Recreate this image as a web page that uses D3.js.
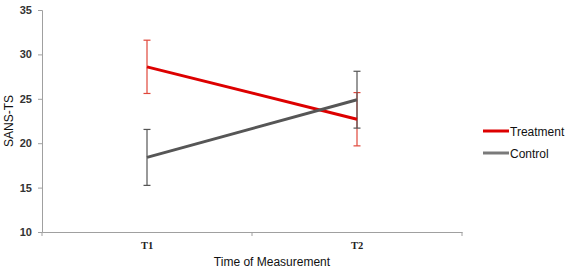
<!DOCTYPE html>
<html>
<head>
<meta charset="utf-8">
<script src="https://cdn.jsdelivr.net/npm/d3@7"></script>
<style>
  body { margin: 0; background: #fff; }
  text { font-family: "Liberation Sans", Arial, sans-serif; }
</style>
</head>
<body>
<svg id="chart" width="567" height="270"></svg>
<script>
// data
const times = ["T1", "T2"];
const treatmentMean = [28.6, 22.7];
const treatmentErr = [3.0, 3.0];
const controlMean = [18.4, 24.9];
const controlErr = [3.15, 3.2];
const yTicks = [10, 15, 20, 25, 30, 35];

const series = [
  {name: "Treatment", mean: treatmentMean, err: treatmentErr, color: "#dd0000", errColor: "#e0463a", legendColor: "#dd0000"},
  {name: "Control", mean: controlMean, err: controlErr, color: "#565656", errColor: "#555555", legendColor: "#7a7a7a"}
];

const svg = d3.select("#chart");
const plotL = 42, plotR = 462, plotT = 10, plotB = 232;

const x = d3.scaleBand().domain(times).range([plotL, plotR]);
const y = d3.scaleLinear().domain([10, 35]).range([plotB, plotT]);

// y axis
const yAxis = svg.append("g").attr("transform", "translate(" + plotL + ",0)")
  .call(d3.axisLeft(y).tickValues(yTicks).tickSize(4).tickPadding(6));
yAxis.select(".domain").attr("stroke", "#a0a0a0");
yAxis.selectAll(".tick line").attr("stroke", "#a0a0a0");
yAxis.selectAll(".tick text")
  .style("font-family", "'Liberation Sans', sans-serif")
  .style("font-weight", "bold")
  .attr("font-size", 11).attr("fill", "#333");

// x axis
const xAxis = svg.append("g").attr("transform", "translate(0," + plotB + ")")
  .call(d3.axisBottom(x).tickSize(0).tickPadding(10));
xAxis.select(".domain").attr("stroke", "#a0a0a0");
xAxis.selectAll(".tick text")
  .style("font-family", "'Liberation Serif', serif")
  .style("font-weight", "bold")
  .attr("font-size", 10.5).attr("fill", "#222");
// boundary ticks between categories
const bounds = [plotL, plotL + x.bandwidth(), plotR];
xAxis.selectAll(".bound").data(bounds).join("line")
  .attr("x1", d => d).attr("x2", d => d)
  .attr("y1", 0).attr("y2", 4)
  .attr("stroke", "#a0a0a0");

const cx = d => x(d) + x.bandwidth() / 2;

// error bars
const line = d3.line().x(d => cx(d.t)).y(d => y(d.v));
series.forEach(s => {
  const pts = times.map((t, i) => ({t: t, v: s.mean[i], e: s.err[i]}));
  const g = svg.append("g");
  g.selectAll(".err").data(pts).join("line")
    .attr("x1", d => cx(d.t)).attr("x2", d => cx(d.t))
    .attr("y1", d => y(d.v - d.e)).attr("y2", d => y(d.v + d.e))
    .attr("stroke", s.errColor).attr("stroke-width", 1.2);
  g.selectAll(".capTop").data(pts).join("line")
    .attr("x1", d => cx(d.t) - 3.5).attr("x2", d => cx(d.t) + 3.5)
    .attr("y1", d => y(d.v + d.e)).attr("y2", d => y(d.v + d.e))
    .attr("stroke", s.errColor).attr("stroke-width", 1.2);
  g.selectAll(".capBot").data(pts).join("line")
    .attr("x1", d => cx(d.t) - 3.5).attr("x2", d => cx(d.t) + 3.5)
    .attr("y1", d => y(d.v - d.e)).attr("y2", d => y(d.v - d.e))
    .attr("stroke", s.errColor).attr("stroke-width", 1.2);
  s.path = pts;
});
// mean lines on top (control drawn over treatment, as in picture)
series.forEach(s => {
  svg.append("path").datum(s.path)
    .attr("d", line).attr("fill", "none")
    .attr("stroke", s.color).attr("stroke-width", 3);
});

// legend
const legend = svg.append("g").attr("transform", "translate(483,131)");
series.forEach((s, i) => {
  const row = legend.append("g").attr("transform", "translate(0," + i * 22 + ")");
  row.append("line").attr("x1", 0).attr("x2", 26).attr("y1", 0).attr("y2", 0)
    .attr("stroke", s.legendColor).attr("stroke-width", 3);
  row.append("text").attr("x", 27).attr("y", 4.5)
    .attr("font-size", 12).attr("fill", "#111").text(s.name);
});

// axis titles
svg.append("text")
  .attr("transform", "translate(13," + ((plotT + plotB) / 2) + ") rotate(-90)")
  .attr("text-anchor", "middle").attr("font-size", 12).attr("fill", "#111")
  .text("SANS-TS");
svg.append("text")
  .attr("x", (plotL + plotR) / 2 + 20).attr("y", 266)
  .attr("text-anchor", "middle").attr("font-size", 12).attr("fill", "#111")
  .text("Time of Measurement");
</script>
</body>
</html>
